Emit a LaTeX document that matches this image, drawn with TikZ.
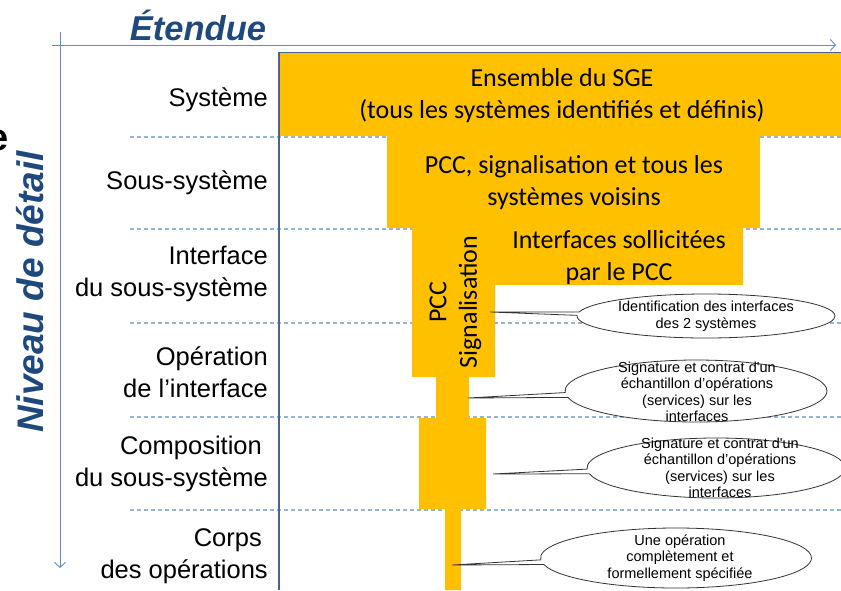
\documentclass[tikz,border=0pt]{standalone}
\usepackage{fontspec}
\setmainfont{Liberation Sans}
\newfontfamily\calibri{Carlito}
\usetikzlibrary{shapes.callouts,arrows.meta,positioning}
\definecolor{funnel}{RGB}{255,192,0}
\definecolor{titleblue}{RGB}{31,73,125}
\definecolor{axisblue}{RGB}{95,140,200}
\definecolor{gridblue}{RGB}{149,179,215}
\definecolor{frameblue}{RGB}{74,100,145}
\tikzstyle{levellabel} = [anchor=east, align=right, inner sep=0pt, font=\fontsize{25.5}{32}\selectfont]
\tikzstyle{scopetext} = [align=center, inner sep=0pt, font=\calibri\fontsize{26}{32}\selectfont]
\tikzstyle{bubble} = [ellipse callout, draw=black!80, line width=0.8pt, fill=white, callout pointer arc=9, inner sep=0pt]
\tikzstyle{bubbletext} = [align=center, inner sep=0pt, font=\fontsize{14.5}{16.5}\selectfont]
\tikzstyle{levelsep} = [gridblue, line width=1.2pt, dash pattern=on 4pt off 3pt]
\tikzstyle{detailaxis} = [axisblue, line width=0.9pt, -{Straight Barb[length=5pt,width=11pt]}]
\tikzstyle{axistitle} = [text=titleblue, inner sep=0pt, font=\bfseries\itshape\fontsize{34.5}{34.5}\selectfont]

\begin{document}
\begin{tikzpicture}[x=1pt,y=-1pt]
					\useasboundingbox (0,0) rectangle (841,590);
					\coordinate (xstart) at (52,45);
					\coordinate (xend) at (836,45);
					\coordinate (ystart) at (60,32);
					\coordinate (yend) at (60,568);
					\draw[detailaxis] (xstart) -- (xend);
					\draw[detailaxis] (ystart) -- (yend);
					\node[axistitle, anchor=base] (etendue) at (198,40) {Étendue};
					\node[axistitle, rotate=90, font=\bfseries\itshape\fontsize{37}{37}\selectfont] (niveau) at (30,292) {Niveau de détail};
					\node[font=\bfseries\fontsize{38}{38}\selectfont, anchor=base east, inner sep=0pt] (cutoff) at (9,150) {e};
					\foreach \y in {137,229,323,417,510}
						\draw[levelsep] (130,\y) -- (841,\y);
					\fill[funnel] (279,53) -- (841,53) -- (841,136) -- (760,136) -- (760,228) -- (743,228)
						-- (743,285) -- (495,285) -- (495,377) -- (469,377) -- (469,418) -- (486,418)
						-- (486,509) -- (461,509) -- (461,590) -- (445,590) -- (445,509) -- (419,509)
						-- (419,418) -- (436,418) -- (436,377) -- (412,377) -- (412,228) -- (387,228)
						-- (387,136) -- (279,136) -- cycle;
					\draw[frameblue, line width=1.6pt] (279,590) -- (279,52.5) -- (841,52.5);
					\node[levellabel] (systeme) at (268,100) {Système};
					\node[levellabel] (soussysteme) at (268,183) {Sous-système};
					\node[levellabel] (interface) at (268,274) {Interface\\du sous-système};
					\node[levellabel] (operation) at (268,372) {Opération\\de l’interface};
					\node[levellabel] (composition) at (268,464) {Composition\hspace*{6pt}\\du sous-système};
					\node[levellabel] (corps) at (268,556) {Corps\hspace*{6pt}\\des opérations};
					\node[scopetext] (sge) at (562,96) {Ensemble du SGE\\(tous les systèmes identifiés et définis)};
					\node[scopetext] (voisins) at (574,183) {PCC, signalisation et tous les\\systèmes voisins};
					\node[scopetext] (sollicitees) at (619,258) {Interfaces sollicitées\\par le PCC};
					\node[scopetext, rotate=90] (pcc) at (438,302) {PCC};
					\node[scopetext, rotate=90] (signal) at (470,302) {Signalisation};
					\coordinate (tip1) at (490,312);
					\coordinate (tip2) at (468,398);
					\coordinate (tip3) at (493,474);
					\coordinate (tip4) at (452,565);
					\node[bubble, minimum width=258pt, minimum height=44pt, callout absolute pointer={(tip1)}] (bub1) at (706,316) {};
					\node[bubbletext] (txt1) at (bub1.center) {Identification des interfaces\\des 2 systèmes};
					\node[bubble, minimum width=262pt, minimum height=62pt, callout absolute pointer={(tip2)}] (bub2) at (696,391) {};
					\node[bubbletext] (txt2) at (697,392) {Signature et contrat d\textquotesingle un\\échantillon d’opérations\\(services) sur les\\interfaces};
					\node[bubble, minimum width=258pt, minimum height=60pt, callout absolute pointer={(tip3)}] (bub3) at (716,468) {};
					\node[bubbletext] (txt3) at (720,468) {Signature et contrat d\textquotesingle un\\échantillon d’opérations\\(services) sur les\\interfaces};
					\node[bubble, minimum width=271pt, minimum height=60pt, callout absolute pointer={(tip4)}] (bub4) at (676,558) {};
					\node[bubbletext] (txt4) at (680,558) {Une opération\\complètement et\\formellement spécifiée};
\end{tikzpicture}
\end{document}
